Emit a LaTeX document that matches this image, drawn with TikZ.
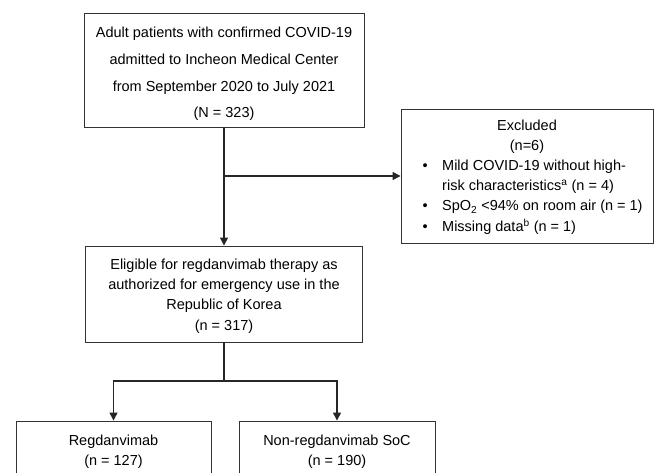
\documentclass[tikz,border=0pt]{standalone}
\usepackage{fontspec}
\setmainfont{Liberation Sans}
\usetikzlibrary{arrows.meta}
\begin{document}
\begin{tikzpicture}[x=1pt,y=1pt,
  box/.style={draw=black!80, line width=0.9pt, inner sep=0pt},
  txt/.style={font=\fontsize{14.5}{20.4}\selectfont, align=center, inner sep=0pt, text=black},
  conn/.style={line width=1.3pt, draw=black!85},
  arr/.style={conn, -{Triangle[length=8pt,width=8pt]}}]
\useasboundingbox (0,0) rectangle (658,-473);
\clip (0,0) rectangle (658,-473);
% boxes
\node[box, minimum width=280pt, minimum height=114pt] (top) at (224,-70) {};
\node[box, minimum width=252pt, minimum height=134pt] (excl) at (527,-176) {};
\node[box, minimum width=277pt, minimum height=96pt] (elig) at (224,-294) {};
\node[box, minimum width=195pt, minimum height=69pt] (reg) at (113.5,-455.5) {};
\node[box, minimum width=196pt, minimum height=69pt] (non) at (337,-455.5) {};
% texts
\node[txt, font=\fontsize{14.5}{26.7}\selectfont] (toptxt) at (224,-74)
  {Adult patients with confirmed COVID-19\\admitted to Incheon Medical Center\\from September 2020 to July 2021\\(N = 323)};
\node[txt] (exhead) at (527,-136.5) {Excluded\\(n=6)};
\node[txt, align=left, anchor=west] (exlist) at (422.5,-197)
  {\makebox[19.5pt][l]{•}Mild COVID-19 without high-\\
   \hspace*{19.5pt}risk characteristics\textsuperscript{a} (n = 4)\\
   \makebox[19.5pt][l]{•}SpO\textsubscript{2} <94\% on room air (n = 1)\\
   \makebox[19.5pt][l]{•}Missing data\textsuperscript{b} (n = 1)};
\node[txt] (eligtxt) at (224,-296)
  {Eligible for regdanvimab therapy as\\authorized for emergency use in the\\Republic of Korea\\(n = 317)};
\node[txt] (regtxt) at (113.5,-452) {Regdanvimab\\(n = 127)};
\node[txt] (nontxt) at (337,-452) {Non-regdanvimab SoC\\(n = 190)};
% connectors
\coordinate (b1) at (224,-176);
\coordinate (b2) at (224,-381);
\draw[arr] (top.south) -- (elig.north);
\draw[arr] (b1) -- (excl.west);
\draw[conn] (elig.south) -- (b2);
\draw[arr] (b2) -| (reg.north);
\draw[arr] (b2) -| (non.north);
\end{tikzpicture}
\end{document}
